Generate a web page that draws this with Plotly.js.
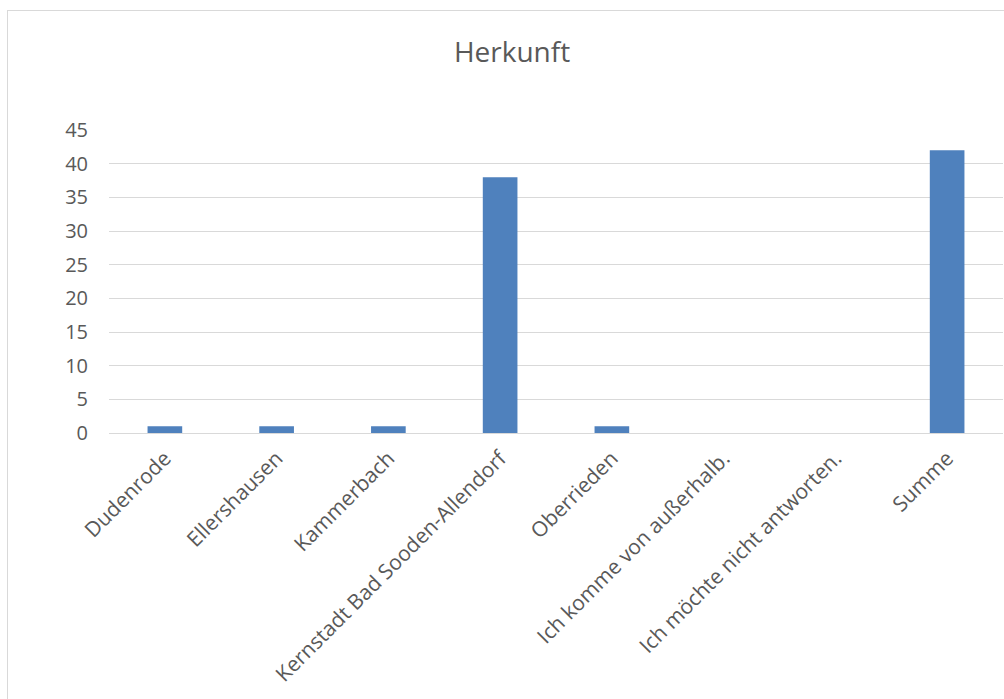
<!DOCTYPE html>
<html>
<head>
<meta charset="utf-8">
<script src="https://cdn.plot.ly/plotly-3.0.1.min.js"></script>
<style>
  html, body { margin: 0; padding: 0; width: 1004px; height: 699px; overflow: hidden; background: #fff; }
  #frame { position: absolute; left: 7px; top: 10px; width: 1100px; height: 800px; border: 1px solid #d9d9d9; box-sizing: border-box; pointer-events: none; }
  #chart { position: absolute; left: 0; top: 0; width: 1004px; height: 699px; }
</style>
</head>
<body>
<div id="chart"></div>
<div id="frame"></div>
<script>
const categories = [
  "Dudenrode",
  "Ellershausen",
  "Kammerbach",
  "Kernstadt Bad Sooden-Allendorf",
  "Oberrieden",
  "Ich komme von außerhalb.",
  "Ich möchte nicht antworten.",
  "Summe"
];
const values = [1, 1, 1, 38, 1, 0, 0, 42];
const yTicks = [0, 5, 10, 15, 20, 25, 30, 35, 40, 45];
const chartTitle = "Herkunft";

const font = "'Open Sans', 'Noto Sans', sans-serif";
const textColor = "#595959";

Plotly.newPlot("chart", [{
  type: "bar",
  x: categories,
  y: values,
  marker: { color: "#4f81bd" },
  hoverinfo: "x+y"
}], {
  width: 1004,
  height: 699,
  margin: { l: 109, r: 1, t: 130, b: 266 },
  paper_bgcolor: "#ffffff",
  plot_bgcolor: "#ffffff",
  bargap: 0.69,
  showlegend: false,
  title: {
    text: chartTitle,
    font: { family: font, size: 28, color: textColor },
    x: 0.51, xref: "container", xanchor: "center",
    y: 0.926, yref: "container", yanchor: "middle"
  },
  xaxis: {
    type: "category",
    tickangle: -45,
    tickfont: { family: font, size: 21, color: textColor },
    showgrid: false,
    showline: false,
    ticks: "",
    ticklabelstandoff: 8,
    fixedrange: true
  },
  yaxis: {
    range: [0, 45],
    tickvals: yTicks,
    ticktext: yTicks.map(String),
    tickfont: { family: font, size: 20, color: textColor },
    showgrid: true,
    gridcolor: "#d9d9d9",
    gridwidth: 1,
    zeroline: true,
    zerolinecolor: "#d9d9d9",
    zerolinewidth: 1,
    showline: false,
    ticks: "",
    ticklabelstandoff: 20,
    fixedrange: true
  }
}, { displayModeBar: false, staticPlot: true });
</script>
</body>
</html>
